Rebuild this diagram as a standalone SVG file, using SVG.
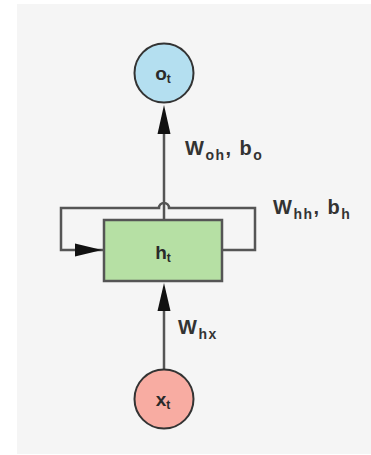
<svg xmlns="http://www.w3.org/2000/svg" width="371" height="455" viewBox="0 0 371 455">
<defs>
<style>
.edge{fill:none;stroke:#555;stroke-width:2.5}
.lbl{font-family:"Liberation Sans",Arial,sans-serif;font-size:20px;font-weight:bold;fill:#333;letter-spacing:1.5px}
.sub{font-size:14px}
.nt{font-family:"Liberation Sans",Arial,sans-serif;font-size:19px;font-weight:bold;fill:#2a2a2a;text-anchor:middle}
.nsub{font-size:12px}
</style>
</defs>
<rect x="17" y="4" width="354" height="450" fill="#f5f5f5"/>
<g id="connectors">
<path class="edge" d="M164,220 V133"/>
<path d="M164,134 L157.5,134 L164,105 L170.5,134 Z" fill="#111"/>
<path class="edge" d="M104,250 H61 V208 H159 A5,5 0 0 1 169,208 H255 V250 H222"/>
<path d="M75,243.5 L102,250 L75,256.5 Z" fill="#111"/>
<path class="edge" d="M164,370 V310"/>
<path d="M164,311 L157.5,311 L164,283 L170.5,311 Z" fill="#111"/>
</g>
<g id="o_t">
<circle cx="164" cy="73" r="29.5" fill="#b4dff0" stroke="#333" stroke-width="2"/>
<text class="nt" x="163" y="80">o<tspan class="nsub" dy="3">t</tspan></text>
</g>
<g id="h_t">
<rect x="104" y="220" width="118" height="61" fill="#b6e0a4" stroke="#555" stroke-width="2.5"/>
<text class="nt" x="163" y="259">h<tspan class="nsub" dy="3">t</tspan></text>
</g>
<g id="x_t">
<circle cx="164" cy="399" r="29.5" fill="#f8aca2" stroke="#333" stroke-width="2"/>
<text class="nt" x="163" y="406">x<tspan class="nsub" dy="3">t</tspan></text>
</g>
<g id="labels">
<text class="lbl" x="185" y="155">W<tspan class="sub" dy="5">oh</tspan><tspan dy="-5">, b</tspan><tspan class="sub" dy="5">o</tspan></text>
<text class="lbl" x="273" y="214">W<tspan class="sub" dy="5">hh</tspan><tspan dy="-5">, b</tspan><tspan class="sub" dy="5">h</tspan></text>
<text class="lbl" x="178" y="334">W<tspan class="sub" dy="5">hx</tspan></text>
</g>
</svg>
